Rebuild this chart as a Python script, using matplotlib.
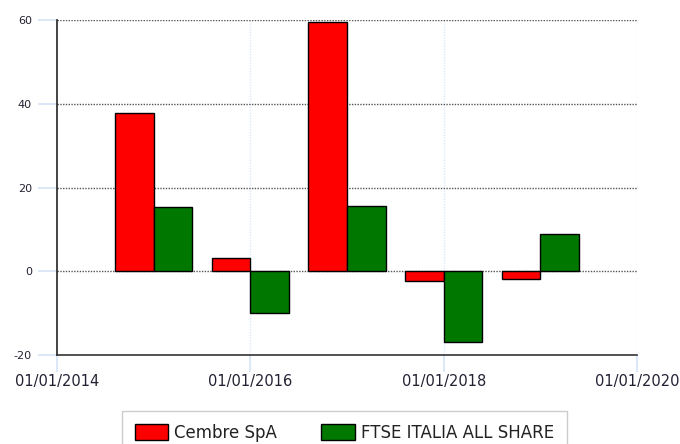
import matplotlib

matplotlib.use('Agg')
import matplotlib.pyplot as plt
import matplotlib.dates as mdates
from datetime import datetime, timedelta

# Dati
years = [2015, 2016, 2017, 2018, 2019]
cembre = [37.7, 3.1, 59.5, -2.4, -1.8]
ftse = [15.3, -10.0, 15.5, -16.8, 8.8]
tick_years = [2014, 2016, 2018, 2020]

RED = '#ff0000'
GREEN = '#007800'
BLUE_TICK = '#dce8f8'

plt.rcParams['axes.unicode_minus'] = False

fig = plt.figure(figsize=(6.8, 4.44), dpi=100)
ax = fig.add_axes([57 / 680, 1 - 355 / 444, 580 / 680, 335 / 444])

dates = [datetime(y, 1, 1) for y in years]
width = timedelta(days=146)

# Barre
ax.bar(dates, cembre, width=-width, align='edge', color=RED, edgecolor='black',
       linewidth=1.0, zorder=3, label='Cembre SpA')
ax.bar(dates, ftse, width=width, align='edge', color=GREEN, edgecolor='black',
       linewidth=1.0, zorder=3, label='FTSE ITALIA ALL SHARE')

# Assi
ax.set_xlim(datetime(tick_years[0], 1, 1), datetime(tick_years[-1], 1, 1))
ax.set_ylim(-20, 60)
ax.set_yticks([-20, 0, 20, 40, 60])
ax.set_xticks([datetime(y, 1, 1) for y in tick_years])
ax.xaxis.set_major_formatter(mdates.DateFormatter('%d/%m/%Y'))

for y in [0, 20, 40, 60]:
    ax.axhline(y, color='#555555', linestyle=(0, (1, 1)), linewidth=1.0, zorder=2)
for y in tick_years[1:]:
    ax.axvline(datetime(y, 1, 1), color=BLUE_TICK, linestyle=(0, (1, 1)), linewidth=1.0, zorder=1)

ax.spines['top'].set_visible(False)
ax.spines['right'].set_visible(False)
ax.spines['left'].set_color('#222222')
ax.spines['bottom'].set_color('#333333')
ax.spines['left'].set_linewidth(1.2)
ax.spines['bottom'].set_linewidth(1.2)

ax.tick_params(axis='y', length=14, width=1.5, color=BLUE_TICK, labelsize=8, pad=4,
               labelcolor='#222233')
ax.tick_params(axis='x', length=12, width=1.5, color=BLUE_TICK, labelsize=10.5, pad=2,
               labelcolor='#222233')

# Legenda
fig.legend(loc='upper left', bbox_to_anchor=(122 / 680, 0, 445 / 680, 1 - 411 / 444),
           mode='expand', ncol=2, fancybox=False, edgecolor='#cccccc', fontsize=12,
           handlelength=2.0, handleheight=1.05, handletextpad=0.4, columnspacing=1.3,
           borderpad=0.75, borderaxespad=0, framealpha=1, labelcolor='#222222')

plt.savefig('out.png', dpi=100)
